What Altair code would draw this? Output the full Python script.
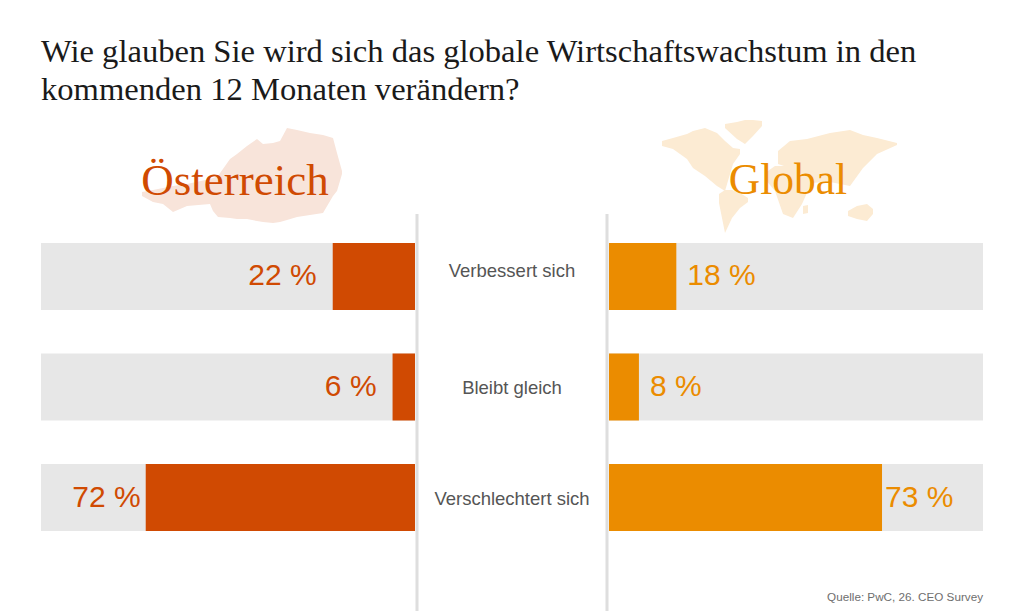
import altair as alt
import pandas as pd

title_lines = ["Wie glauben Sie wird sich das globale Wirtschaftswachstum in den",
               "kommenden 12 Monaten verändern?"]
categories = ["Verbessert sich", "Bleibt gleich", "Verschlechtert sich"]
austria = [22, 6, 72]
world = [18, 8, 73]
full = [100, 100, 100]
source = "Quelle: PwC, 26. CEO Survey"

# silhouette outlines: x, upper edge, lower edge
austria_outline = [(142,191,195),(153,189,201),(163,187,203),(173,185,211),(187,183,205),(210,178,203),
                   (213,177,210),(218,175,216),(230,158,217),(237,153,218),(247,145,218),(257,138,220),
                   (263,143,221),(273,142,222),(280,140,221),(287,127,219),(297,129,216),(310,132,214),
                   (323,134,212),(333,137,195),(337,152,190),(342,170,173)]
world_outlines = {
    "na": [(662,140,145),(673,137,148),(687,133,158),(693,130,167),(705,127,175),(717,132,185),(725,140,190),(733,147,163),(740,148,153)],
    "gl": [(725,123,127),(737,121,138),(745,119,143),(753,119,135),(762,120,125)],
    "sa": [(719,193,202),(725,189,232),(732,189,217),(740,192,207),(748,197,201)],
    "ea": [(778,150,163),(790,140,167),(807,138,182),(830,132,181),(850,129,185),(863,134,167),(877,137,153),(897,142,144)],
    "af": [(765,172,178),(775,165,190),(783,165,213),(793,165,217),(802,165,203),(810,170,185),(817,172,178)],
    "au": [(848,210,215),(857,205,218),(867,203,220),(873,208,213)],
    "mg": [(803,205,213),(808,204,212)],
}

ORANGE_L, ORANGE_R = "#d04a02", "#eb8c00"
TOP, H, W, MID = 115, 496, 374, 194
SANS, SERIF = "Liberation Sans", "Liberation Serif"


def frame(vals):
    return pd.DataFrame({"cat": categories, "v": vals, "full": full,
                         "label": [f"{v} %" for v in vals]})


def y_enc():
    return alt.Y("cat:N", axis=None, scale=alt.Scale(type="band", domain=categories, range=[127, 415],
                                                     paddingInner=0.394, paddingOuter=0))


def outline_frame(d):
    return pd.DataFrame([{"p": k, "x": a, "y": b, "y2": c} for k, pts in d.items() for a, b, c in pts])


def panel(vals, color, pale, domain, blob, x0, name, name_x, name_size, align, near_dx, far_dx):
    df = frame(vals)
    x_enc = lambda f: alt.X(f, axis=None, scale=alt.Scale(domain=domain))
    shape = alt.Chart(outline_frame(blob)).mark_area(color=pale, orient="vertical", opacity=1).encode(
        x=alt.X("x:Q", axis=None, scale=alt.Scale(domain=[x0, x0 + W], nice=False, zero=False)),
        y=alt.Y("y:Q", axis=None, scale=alt.Scale(domain=[TOP, TOP + H], range=[0, H], nice=False, zero=False)),
        y2="y2:Q", detail="p:N")
    head = alt.Chart(df.head(1)).mark_text(text=name, font=SERIF, fontSize=name_size, color=color, align="center",
                                           baseline="middle").encode(x=alt.value(name_x), y=alt.value(65))
    bg = alt.Chart(df).mark_bar(color="#e7e7e7").encode(x=x_enc("full:Q"), y=y_enc())
    bar = alt.Chart(df).mark_bar(color=color).encode(x=x_enc("v:Q"), y=y_enc())
    near = alt.Chart(df).transform_filter("datum.v < 50").mark_text(
        font=SANS, fontSize=30, color=color, align=align, baseline="middle", dx=near_dx
    ).encode(x=x_enc("v:Q"), y=y_enc(), text="label:N")
    far = alt.Chart(df).transform_filter("datum.v >= 50").mark_text(
        font=SANS, fontSize=30, color=color, align=align, baseline="middle", dx=far_dx
    ).encode(x=x_enc("v:Q"), y=y_enc(), text="label:N")
    return [shape, head, bg, bar, near, far]


left_layers = panel(austria, ORANGE_L, "#f8e4da", [100, 0], {"at": austria_outline}, 41,
                    "Österreich", 194, 45, "right", -16, -5)
right_layers = panel(world, ORANGE_R, "#fcebd3", [0, 100], world_outlines, 609,
                     "Global", 179, 43.5, "left", 11, 3)
src = alt.Chart(frame(world).head(1)).mark_text(text=source, font=SANS, fontSize=11.7, color="#6e6e6e",
                                                align="right", baseline="middle").encode(
    x=alt.value(W), y=alt.value(481))

left = alt.layer(*left_layers).resolve_scale(x="independent", y="independent").properties(width=W, height=H)
right = alt.layer(*right_layers, src).resolve_scale(x="independent", y="independent").properties(width=W, height=H)


def mid_label(cat, dy):
    return alt.Chart(frame(full)).transform_filter(alt.datum.cat == cat).mark_text(
        font=SANS, fontSize=18.5, color="#555555", baseline="middle", dy=dy
    ).encode(x=alt.value(MID / 2), y=y_enc(), text="cat:N")


rule_df = frame(full).head(1)
rule_a = alt.Chart(rule_df).mark_rule(color="#dedede", strokeWidth=3).encode(
    x=alt.value(2), y=alt.value(98), y2=alt.value(H))
rule_b = alt.Chart(rule_df).mark_rule(color="#dedede", strokeWidth=3).encode(
    x=alt.value(MID - 2), y=alt.value(98), y2=alt.value(H))
mid = alt.layer(rule_a, rule_b, mid_label(categories[0], -5), mid_label(categories[1], 1),
                mid_label(categories[2], 1)).properties(width=MID, height=H)

chart = alt.hconcat(left, mid, right, spacing=0, bounds="flush").properties(
    padding={"left": 33, "right": 33, "top": 28, "bottom": 0},
    background="white",
    title=alt.TitleParams(text=title_lines, anchor="start", font=SERIF, fontSize=32.6, fontWeight="normal",
                          lineHeight=38, color="#1a1a1a", offset=9.4, frame="group"),
).configure_view(strokeWidth=0, stroke="transparent")

chart.save("out.html", embed_options={"renderer": "svg", "actions": False})
